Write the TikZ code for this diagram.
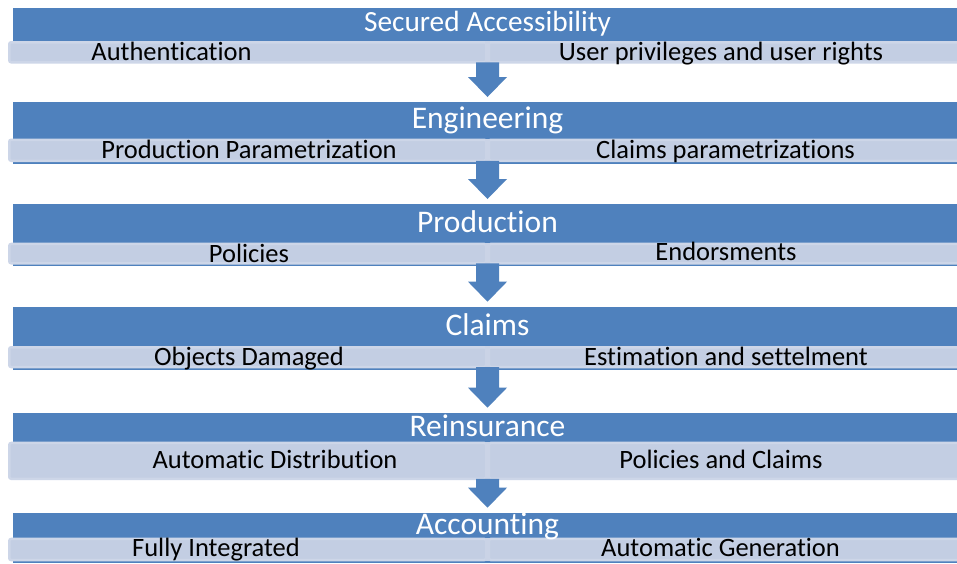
\documentclass[tikz,border=0pt]{standalone}
\usepackage{fontspec}
\setmainfont{Carlito}[Ligatures=NoCommon]
\usetikzlibrary{calc}
\definecolor{hdr}{HTML}{4F81BD}
\definecolor{subfill}{HTML}{C3CEE3}
\definecolor{subedge}{HTML}{CDD6E8}
\definecolor{divline}{HTML}{CAD3E6}
\tikzset{
 hbar/.style={fill=hdr, draw=none, inner sep=0pt, outer sep=0pt, anchor=north west, minimum width=949pt},
 sbar/.style={fill=subfill, draw=subedge, line width=2.5pt, rounded corners=2pt, inner sep=0pt, outer sep=0pt, anchor=north west, minimum width=477pt},
 htext/.style={text=white, anchor=base, inner sep=0pt, font=\fontsize{31.5}{36}\selectfont},
 stext/.style={text=black, anchor=base, inner sep=0pt, font=\fontsize{26.5}{30}\selectfont},
 blockarrow/.style={fill=hdr, draw=none},
 divider/.style={fill=divline, draw=none},
}
\newcommand\blockarr[2]{\fill[blockarrow] let \p1=(#1), \p2=(#2) in
  (\x1-11.5pt,\y1) -- (\x1+11.5pt,\y1) -- (\x1+11.5pt,\y2+20pt) -- (\x1+19.5pt,\y2+20pt)
  -- (\x2,\y2) -- (\x1-19.5pt,\y2+20pt) -- (\x1-11.5pt,\y2+20pt) -- cycle;}
\newcommand\subdivider[2]{\fill[divider] ($(#1.north east)+(-1.5,-1.25)$) rectangle ($(#2.south west)+(1.5,1.25)$);}
\begin{document}
\begin{tikzpicture}[x=1pt,y=-1pt]
\useasboundingbox (0,0) rectangle (957,563);
\clip (0,0) rectangle (957,563);
\fill[white] (0,0) rectangle (957,563);

% Section 1
\node[hbar, minimum height=33pt] (h1) at (13,8) {};
\node[sbar, minimum height=20pt] (sL1) at (9.25,42.25) {};
\node[sbar, minimum height=20pt] (sR1) at (488.75,42.25) {};
\subdivider{sL1}{sR1}
\node[htext, font=\fontsize{29.3}{34}\selectfont] (t1) at (487.5,31.5) {Secured Accessibility};
\node[stext] (l1) at (171.5,60.5) {Authentication};
\node[stext] (r1) at (721,60.5) {User privileges and user rights};

% Section 2
\node[hbar, minimum height=61.5pt] (h2) at (13,102) {};
\node[sbar, minimum height=21pt] (sL2) at (9.25,139.75) {};
\node[sbar, minimum height=21pt] (sR2) at (488.75,139.75) {};
\subdivider{sL2}{sR2}
\node[htext] (t2) at (487.5,128.5) {Engineering};
\node[stext] (l2) at (249,158) {Production Parametrization};
\node[stext] (r2) at (725.5,158) {Claims parametrizations};

% Section 3
\node[hbar, minimum height=62pt] (h3) at (13,204) {};
\node[sbar, minimum height=19.3pt] (sL3) at (9.25,243.95) {};
\node[sbar, minimum height=19.3pt] (sR3) at (488.75,243.95) {};
\subdivider{sL3}{sR3}
\node[htext] (t3) at (487.5,232) {Production};
\node[stext] (l3) at (249,262.5) {Policies};
\node[stext] (r3) at (726,260) {Endorsments};

% Section 4
\node[hbar, minimum height=63.3pt] (h4) at (13,306.7) {};
\node[sbar, minimum height=19.8pt] (sL4) at (9.25,347.25) {};
\node[sbar, minimum height=19.8pt] (sR4) at (488.75,347.25) {};
\subdivider{sL4}{sR4}
\node[htext] (t4) at (487.5,335) {Claims};
\node[stext] (l4) at (249,365) {Objects Damaged};
\node[stext] (r4) at (726,365) {Estimation and settelment};

% Section 5
\node[hbar, minimum height=29pt] (h5) at (13,412.7) {};
\node[sbar, minimum height=35.8pt] (sL5) at (9.25,442.95) {};
\node[sbar, minimum height=35.8pt] (sR5) at (488.75,442.95) {};
\subdivider{sL5}{sR5}
\node[htext] (t5) at (487.5,436) {Reinsurance};
\node[stext] (l5) at (275,468.5) {Automatic Distribution};
\node[stext] (r5) at (721,468.5) {Policies and Claims};

% Section 6
\node[hbar, minimum height=50.3pt] (h6) at (13,512.7) {};
\node[sbar, minimum height=21.1pt] (sL6) at (9.25,538.95) {};
\node[sbar, minimum height=21.1pt] (sR6) at (488.75,538.95) {};
\subdivider{sL6}{sR6}
\node[htext] (t6) at (487.5,534.5) {Accounting};
\node[stext] (l6) at (216,556.5) {Fully Integrated};
\node[stext] (r6) at (720.5,556.5) {Automatic Generation};

% Arrows
\foreach \i/\j in {1/2,2/3,3/4,4/5,5/6}{
  \coordinate (as\i) at ($(sL\i.south east)!0.5!(sR\i.south west)$);
  \coordinate (ae\i) at ($(h\j.north)+(0,-5)$);
  \blockarr{as\i}{ae\i}
}
\end{tikzpicture}
\end{document}
